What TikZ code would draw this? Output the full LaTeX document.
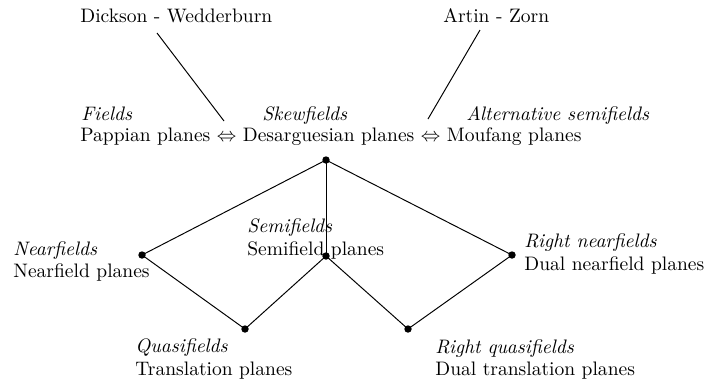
\documentclass[tikz,border=0pt]{standalone}
\begin{document}
\begin{tikzpicture}[x=0.0180cm,y=-0.0180cm,
  txt/.style={inner sep=0pt,anchor=base west},
  dot/.style={circle,fill=black,inner sep=0pt,minimum size=3.8pt},
  edge/.style={line width=0.5pt}]
\useasboundingbox (0,0) rectangle (704,384);

% theorems linking the classes
\node[txt] (dw) at (80,22) {Dickson - Wedderburn};
\node[txt] (az) at (443,22) {Artin - Zorn};

% top row: coordinatising algebras and plane classes
\node[txt] (fields) at (81,120) {\textit{Fields}};
\node[txt] (skew) at (262,120) {\textit{Skewfields}};
\node[txt] (alt) at (466,120) {\textit{Alternative semifields}};
\node[txt] (planes) at (80,141) {Pappian planes $\Leftrightarrow$ Desarguesian planes $\Leftrightarrow$ Moufang planes};

\coordinate (dwa) at (157,33);
\coordinate (dwb) at (224,121);
\coordinate (aza) at (480,30);
\coordinate (azb) at (428,119);
\draw[edge] (dwa) -- (dwb);
\draw[edge] (aza) -- (azb);

% lattice of plane classes
\node[dot] (top) at (326,160) {};
\node[dot] (near) at (142,255) {};
\node[dot] (semi) at (326,256) {};
\node[dot] (quasi) at (245,329) {};
\node[dot] (rquasi) at (408,329) {};
\node[dot] (rnear) at (512,255) {};

\node[txt] (nearA) at (13,255) {\textit{Nearfields}};
\node[txt] (nearB) at (13,277) {Nearfield planes};
\node[txt] (semiA) at (247,232) {\textit{Semifields}};
\node[txt] (semiB) at (247,255) {Semifield planes};
\node[txt] (quasiA) at (135,352) {\textit{Quasifields}};
\node[txt] (quasiB) at (135,375) {Translation planes};
\node[txt] (rquasiA) at (435,353) {\textit{Right quasifields}};
\node[txt] (rquasiB) at (435,375) {Dual translation planes};
\node[txt] (rnearA) at (524,247) {\textit{Right nearfields}};
\node[txt] (rnearB) at (524,270) {Dual nearfield planes};

\draw[edge] (top.center) -- (near.center);
\draw[edge] (top.center) -- (semi.center);
\draw[edge] (top.center) -- (rnear.center);
\draw[edge] (near.center) -- (quasi.center);
\draw[edge] (semi.center) -- (quasi.center);
\draw[edge] (semi.center) -- (rquasi.center);
\draw[edge] (rquasi.center) -- (rnear.center);
\end{tikzpicture}
\end{document}
